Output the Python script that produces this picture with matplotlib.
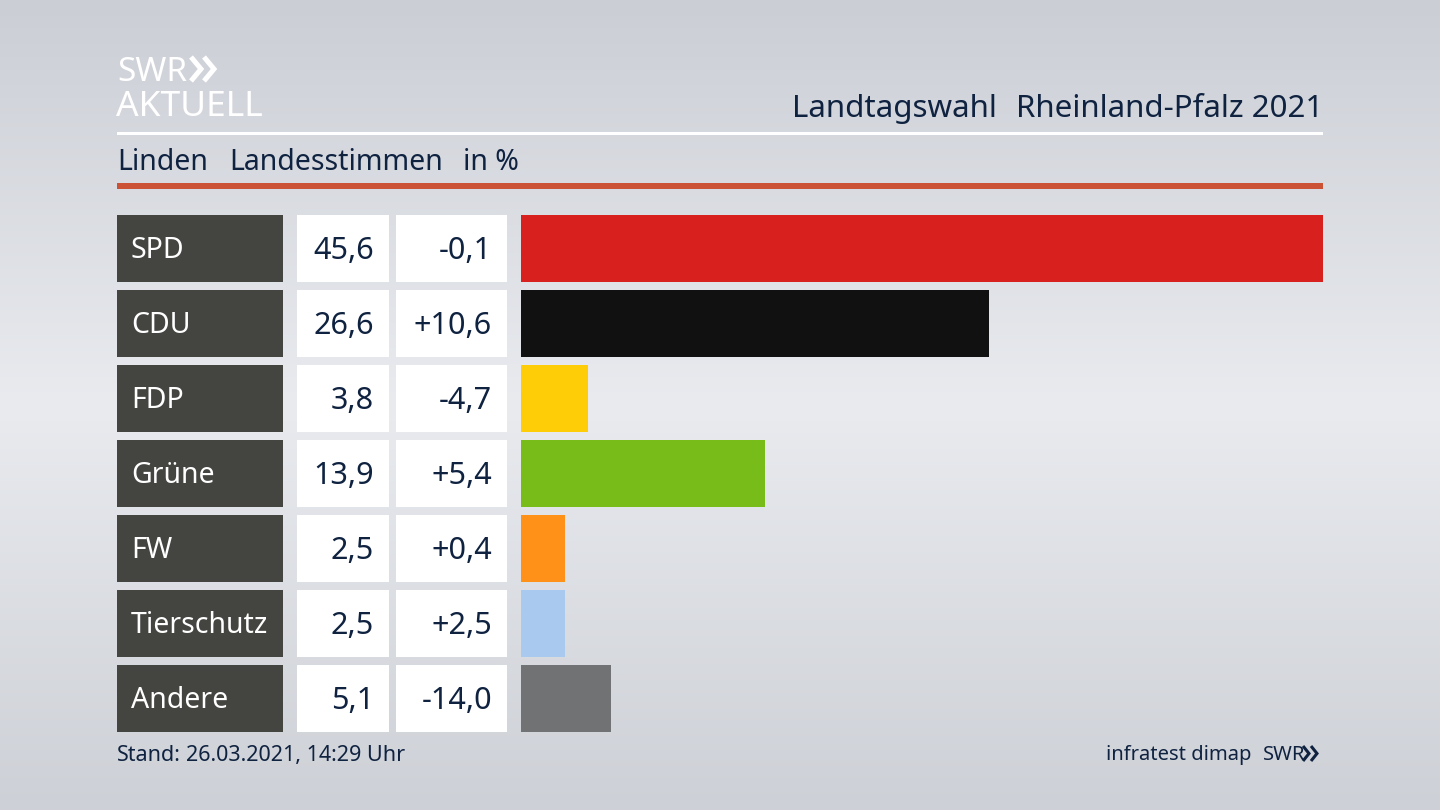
#!/usr/bin/env python3
"""Landtagswahl Rheinland-Pfalz 2021, Linden: Landesstimmen bar panel"""

import numpy as np
import matplotlib
matplotlib.use('Agg')
import matplotlib.pyplot as plt
from matplotlib.colors import LinearSegmentedColormap
from matplotlib.patches import Rectangle

plt.rcParams['font.family'] = ['Noto Sans', 'DejaVu Sans']

parties = ['SPD', 'CDU', 'FDP', 'Grüne', 'FW', 'Tierschutz', 'Andere']
shares = [45.6, 26.6, 3.8, 13.9, 2.5, 2.5, 5.1]
share_labels = ['45,6', '26,6', '3,8', '13,9', '2,5', '2,5', '5,1']
change_labels = ['-0,1', '+10,6', '-4,7', '+5,4', '+0,4', '+2,5', '-14,0']
bar_colors = ['#d8201f', '#111111', '#ffcc08', '#78bc1a', '#ff9119', '#aac9ef', '#717274']

NAVY = '#0f2240'
W, H = 1440, 810
ROW_TOP = 215
ROW_STEP = 75
ROW_H = 67

fig = plt.figure(figsize=(14.4, 8.1), dpi=100)

# page layer in pixel coordinates
ax = fig.add_axes([0, 0, 1, 1])
ax.set_xlim(0, W)
ax.set_ylim(H, 0)
ax.axis('off')

# background gradient, lightest a little above the middle
bg = LinearSegmentedColormap.from_list(
    'bg', [(0, '#cbced5'), (0.5, '#e9ebef'), (1, '#cdd0d6')])
ax.imshow(np.linspace(0, 1, 256).reshape(-1, 1), cmap=bg, aspect='auto',
          extent=(0, W, H, 0), zorder=0)

# logo
ax.text(117, 81, 'SWR', fontsize=24, fontweight='bold', color='white',
        ha='left', va='baseline')
ax.text(116, 116, 'AKTUELL', fontsize=25.5, fontweight='bold', color='white',
        ha='left', va='baseline')
for x0 in (191, 204):
    ax.plot([x0, x0 + 10, x0], [57, 69, 81], color='white', lw=3.6,
            solid_joinstyle='miter', solid_capstyle='butt')

# header
title = ax.text(1323, 117, 'Rheinland-Pfalz 2021', fontsize=22.5, color=NAVY,
                ha='right', va='baseline')
ax.text(997, 117, 'Landtagswahl', fontsize=22.5, fontweight='bold', color=NAVY,
        ha='right', va='baseline')
ax.add_patch(Rectangle((117, 132), 1206, 3, fc='white', ec='none'))
ax.text(117, 170, 'Linden', fontsize=20.5, color=NAVY, ha='left', va='baseline')
ax.text(229, 170, 'Landesstimmen', fontsize=20.5, color=NAVY, ha='left', va='baseline')
ax.text(463, 170, 'in %', fontsize=20.5, color=NAVY, ha='left', va='baseline')
ax.add_patch(Rectangle((117, 183), 1206, 6, fc='#cc5236', ec='none'))

# table cells
for i, party in enumerate(parties):
    top = ROW_TOP + i * ROW_STEP
    mid = top + ROW_H / 2 + 10.5
    ax.add_patch(Rectangle((117, top), 166, ROW_H, fc='#444440', ec='none'))
    ax.add_patch(Rectangle((297, top), 92, ROW_H, fc='white', ec='none'))
    ax.add_patch(Rectangle((396, top), 111, ROW_H, fc='white', ec='none'))
    ax.text(131, mid - 1, party, fontsize=20.5, color='white', ha='left', va='baseline')
    ax.text(374, mid, share_labels[i], fontsize=22, color=NAVY, ha='right', va='baseline')
    ax.text(492, mid, change_labels[i], fontsize=22, color=NAVY, ha='right', va='baseline')

# footer
ax.text(117, 761, 'Stand:', fontsize=15.5, fontweight='bold', color=NAVY,
        ha='left', va='baseline')
ax.text(186, 761, '26.03.2021, 14:29 Uhr', fontsize=15.5, color=NAVY,
        ha='left', va='baseline')
ax.text(1251, 760, 'infratest dimap', fontsize=14.5, color=NAVY,
        ha='right', va='baseline')
ax.text(1263, 760, 'SWR', fontsize=14.5, fontweight='bold', color=NAVY,
        ha='left', va='baseline')
for x0 in (1303, 1311):
    ax.plot([x0, x0 + 6, x0], [746, 753.5, 761], color=NAVY, lw=2.2,
            solid_joinstyle='miter', solid_capstyle='butt')

# bars on their own axes: 0 to 45,6 spans 521..1323 px
bar_top = ROW_TOP
bar_bottom = ROW_TOP + 6 * ROW_STEP + ROW_H
bax = fig.add_axes([521 / W, 1 - bar_bottom / H, (1323 - 521) / W, (bar_bottom - bar_top) / H])
bax.patch.set_alpha(0)
bax.barh(range(len(parties)), shares, height=ROW_H / ROW_STEP, color=bar_colors)
bax.set_xlim(0, max(shares))
margin = ROW_H / ROW_STEP / 2
bax.set_ylim(len(parties) - 1 + margin, -margin)
bax.axis('off')

fig.savefig('out.png', dpi=100)
plt.close(fig)
